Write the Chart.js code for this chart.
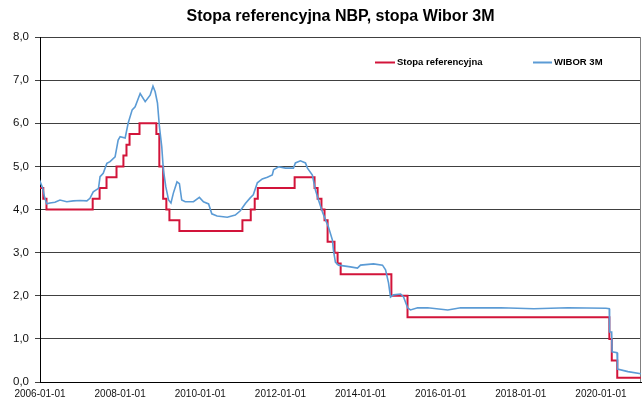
<!DOCTYPE html>
<html><head><meta charset="utf-8">
<script src="https://cdn.jsdelivr.net/npm/chart.js@4.4.0/dist/chart.umd.min.js"></script>
<style>html,body{margin:0;padding:0;background:#fff}canvas{display:block}</style>
</head><body>
<canvas id="c" width="644" height="405"></canvas>
<script>
// NBP reference rate (change dates, value in effect from that date)
const refDates = ['2006-01-01','2006-01-31','2006-03-01','2007-04-26','2007-06-28','2007-08-30','2007-11-29','2008-01-31','2008-02-28','2008-03-27','2008-06-26','2008-11-27','2008-12-24','2009-01-28','2009-02-26','2009-03-26','2009-06-25','2011-01-20','2011-04-06','2011-05-12','2011-06-09','2012-05-10','2012-11-08','2012-12-06','2013-01-10','2013-02-07','2013-03-07','2013-05-09','2013-06-06','2013-07-04','2014-10-09','2015-03-05','2020-03-18','2020-04-09','2020-05-29','2020-12-31'];
const refValues = [4.50,4.25,4.00,4.25,4.50,4.75,5.00,5.25,5.50,5.75,6.00,5.75,5.00,4.25,4.00,3.75,3.50,3.75,4.00,4.25,4.50,4.75,4.50,4.25,4.00,3.75,3.25,3.00,2.75,2.50,2.00,1.50,1.00,0.50,0.10,0.10];

// WIBOR 3M
const wiborDates = ['2006-01-01','2006-01-08','2006-01-27','2006-02-10','2006-03-03','2006-04-01','2006-05-17','2006-07-02','2006-09-02','2006-10-31','2007-01-01','2007-03-04','2007-04-01','2007-05-01','2007-06-18','2007-07-02','2007-07-31','2007-09-02','2007-10-01','2007-11-16','2007-12-14','2008-01-01','2008-02-16','2008-03-14','2008-04-20','2008-05-17','2008-07-02','2008-08-17','2008-10-01','2008-10-27','2008-11-16','2008-12-07','2008-12-25','2009-01-15','2009-01-30','2009-02-21','2009-03-18','2009-04-09','2009-05-01','2009-06-03','2009-06-25','2009-07-16','2009-08-17','2009-10-31','2009-12-24','2010-01-30','2010-03-18','2010-04-16','2010-06-03','2010-09-04','2010-11-16','2011-01-01','2011-02-16','2011-04-01','2011-04-29','2011-06-05','2011-07-20','2011-09-04','2011-10-19','2011-10-31','2011-12-14','2012-02-16','2012-04-29','2012-05-17','2012-07-02','2012-08-17','2012-09-04','2012-10-19','2012-11-16','2012-12-14','2013-01-19','2013-02-16','2013-03-14','2013-04-20','2013-04-29','2013-05-17','2013-06-14','2013-10-01','2013-12-04','2014-01-01','2014-04-29','2014-07-20','2014-08-17','2014-09-13','2014-10-01','2014-10-29','2015-01-01','2015-01-28','2015-03-06','2015-04-01','2015-06-05','2015-09-04','2016-03-06','2016-07-02','2017-07-02','2018-04-29','2019-03-06','2020-02-16','2020-03-17','2020-03-20','2020-04-08','2020-04-12','2020-05-27','2020-06-01','2020-09-04','2020-12-31'];
const wiborValues = [4.60,4.61,4.49,4.30,4.13,4.15,4.17,4.22,4.18,4.20,4.21,4.20,4.26,4.41,4.49,4.76,4.84,5.07,5.11,5.22,5.61,5.69,5.66,6.00,6.31,6.38,6.69,6.50,6.65,6.86,6.73,6.47,5.92,5.46,4.92,4.53,4.22,4.15,4.38,4.64,4.60,4.22,4.18,4.18,4.28,4.18,4.13,3.90,3.85,3.82,3.87,3.97,4.14,4.27,4.34,4.62,4.71,4.75,4.80,4.92,4.99,4.96,4.96,5.08,5.13,5.08,4.96,4.80,4.45,4.22,3.94,3.76,3.60,3.29,3.06,2.78,2.71,2.67,2.64,2.71,2.74,2.71,2.60,2.30,1.97,2.02,2.04,1.97,1.72,1.67,1.72,1.72,1.67,1.72,1.72,1.70,1.72,1.71,1.70,1.16,1.16,0.70,0.68,0.30,0.24,0.19];

const xTickYears = [2006,2008,2010,2012,2014,2016,2018,2020];
const xTickLabels = ['2006-01-01','2008-01-01','2010-01-01','2012-01-01','2014-01-01','2016-01-01','2018-01-01','2020-01-01'];

function toYear(s){const p=s.split('-').map(Number);const a=Date.UTC(p[0],0,1),b=Date.UTC(p[0]+1,0,1);return p[0]+(Date.UTC(p[0],p[1]-1,p[2])-a)/(b-a);}
const refPoints = refDates.map((d,i)=>({x:toYear(d),y:refValues[i]}));
const wiborPoints = wiborDates.map((d,i)=>({x:toYear(d),y:wiborValues[i]}));

const FONT='Liberation Sans, Arial, sans-serif';

const framePlugin = {
  id:'frame',
  beforeDatasetsDraw(chart){
    const {ctx, chartArea:a} = chart;
    ctx.save();
    ctx.strokeStyle='#808080'; ctx.lineWidth=1;
    ctx.beginPath();
    const xr=Math.round(a.right)-0.5;
    ctx.moveTo(xr,a.top); ctx.lineTo(xr,a.bottom); ctx.stroke();
    ctx.restore();
  },
  afterDatasetsDraw(chart){
    const {ctx, chartArea:a} = chart;
    const items=[{x:a.left+335, w:20},{x:a.left+493, w:19}];
    ctx.save();
    ctx.font='bold 9.5px '+FONT;
    ctx.textBaseline='middle'; ctx.textAlign='left'; ctx.fillStyle='#000';
    const y=a.top+25;
    chart.data.datasets.forEach((ds,i)=>{
      const it=items[i];
      ctx.strokeStyle=ds.borderColor; ctx.lineWidth=2;
      ctx.beginPath(); ctx.moveTo(it.x,y+0.5); ctx.lineTo(it.x+it.w,y+0.5); ctx.stroke();
      ctx.fillText(ds.label,it.x+it.w+2,y);
    });
    ctx.restore();
  }
};

new Chart(document.getElementById('c'),{
  type:'line',
  data:{datasets:[
    {label:'Stopa referencyjna',data:refPoints,borderColor:'#D2143A',borderWidth:2,stepped:true,pointRadius:0,fill:false,order:2},
    {label:'WIBOR 3M',data:wiborPoints,borderColor:'#5B9BD5',borderWidth:1.6,pointRadius:0,fill:false,tension:0,order:1}
  ]},
  options:{
    responsive:false, animation:false, devicePixelRatio:1,
    layout:{padding:{left:0,right:3,top:0,bottom:0}},
    plugins:{
      legend:{display:false}, tooltip:{enabled:false},
      title:{display:true,text:'Stopa referencyjna NBP, stopa Wibor 3M',fullSize:false,color:'#000',
        font:{family:FONT,size:16,weight:'bold',lineHeight:1.2},padding:{top:7.4,bottom:10.4}}
    },
    scales:{
      x:{type:'linear',min:2006,max:2021,
        afterBuildTicks:(s)=>{s.ticks=xTickYears.map(v=>({value:v}));},
        afterFit:(s)=>{s.height=23;},
        grid:{display:false,drawTicks:false,tickLength:0},
        border:{display:true,color:'#000',width:1},
        ticks:{autoSkip:false,maxRotation:0,minRotation:0,padding:6,color:'#111',font:{family:FONT,size:10},
          callback:(v)=>{const i=xTickYears.indexOf(v);return i<0?'':xTickLabels[i];}}
      },
      y:{min:0,max:8,
        afterFit:(s)=>{s.width=40;},
        grid:{color:'#404040',lineWidth:1,tickLength:5,drawTicks:true},
        border:{display:true,color:'#000',width:1},
        ticks:{stepSize:1,padding:6,color:'#111',font:{family:FONT,size:11.5},
          callback:(v)=>v.toFixed(1).replace('.',',')}
      }
    }
  },
  plugins:[framePlugin]
});
</script>
</body></html>
